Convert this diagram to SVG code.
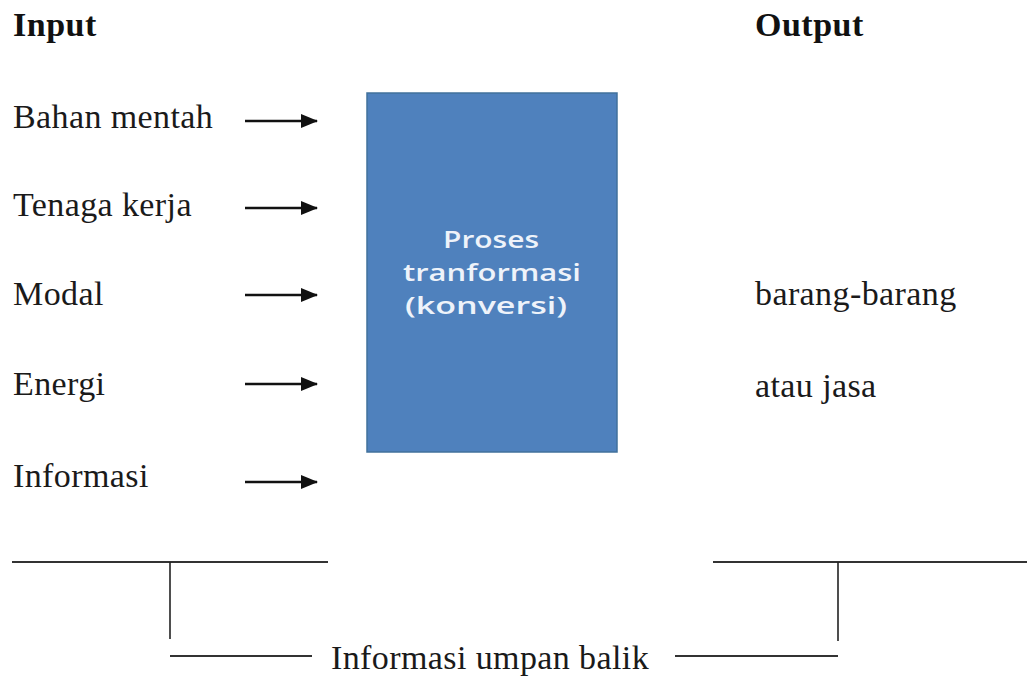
<svg xmlns="http://www.w3.org/2000/svg" width="1027" height="676" viewBox="0 0 1027 676">
  <style>
    .lbl { font-family: "Liberation Serif", "Times New Roman", serif; font-size: 34px; fill: #1a1a1a; letter-spacing: 0.4px; }
    .head { font-family: "Liberation Serif", "Times New Roman", serif; font-size: 34px; font-weight: bold; fill: #111; letter-spacing: 0.5px; }
    .box-text { font-family: "Open Sans", "Noto Sans", sans-serif; font-size: 24px; font-weight: 600; fill: #eef3fa; text-anchor: middle; }
    .arrow { stroke: #111; stroke-width: 2.5; fill: none; marker-end: url(#head); }
    .bar { stroke: #333; stroke-width: 2.2; fill: none; }
    .tick { stroke: #222; stroke-width: 1.6; fill: none; }
  </style>
  <defs>
    <marker id="head" viewBox="0 0 17 14" refX="16" refY="7" markerWidth="17" markerHeight="14" markerUnits="userSpaceOnUse" orient="auto">
      <path d="M0,0 L17,7 L0,14 Z" fill="#111"/>
    </marker>
  </defs>
  <rect width="1027" height="676" fill="#ffffff"/>

  <text class="head" x="13" y="36">Input</text>
  <text class="head" x="755" y="36">Output</text>

  <g id="input-bahan"><text class="lbl" x="13" y="128">Bahan mentah</text></g>
  <g id="input-tenaga"><text class="lbl" x="13" y="216">Tenaga kerja</text></g>
  <g id="input-modal"><text class="lbl" x="13" y="305">Modal</text></g>
  <g id="input-energi"><text class="lbl" x="13" y="395">Energi</text></g>
  <g id="input-informasi"><text class="lbl" x="13" y="487">Informasi</text></g>

  <g id="proses">
    <rect x="367" y="93" width="250" height="359" fill="#4f81bd" stroke="#41719c" stroke-width="1.5"/>
    <text class="box-text" x="491" y="248" textLength="96" lengthAdjust="spacingAndGlyphs">Proses</text>
    <text class="box-text" x="492" y="281" textLength="178" lengthAdjust="spacingAndGlyphs">tranformasi</text>
    <text class="box-text" x="486" y="314" textLength="162" lengthAdjust="spacingAndGlyphs">(konversi)</text>
  </g>

  <g id="output">
    <text class="lbl" x="755" y="305">barang-barang</text>
    <text class="lbl" x="755" y="397">atau jasa</text>
  </g>

  <g id="connectors">
    <line class="arrow" x1="245" y1="121" x2="317" y2="121"/>
    <line class="arrow" x1="245" y1="208" x2="317" y2="208"/>
    <line class="arrow" x1="245" y1="295" x2="317" y2="295"/>
    <line class="arrow" x1="245" y1="384" x2="317" y2="384"/>
    <line class="arrow" x1="245" y1="482" x2="317" y2="482"/>

    <!-- feedback bracket -->
    <line class="bar" x1="12" y1="562" x2="328" y2="562"/>
    <line class="tick" x1="170" y1="562" x2="170" y2="639"/>
    <line class="bar" x1="170" y1="656" x2="312" y2="656"/>
    <line class="bar" x1="713" y1="562" x2="1027" y2="562"/>
    <line class="tick" x1="838" y1="562" x2="838" y2="641"/>
    <line class="bar" x1="675" y1="656" x2="838" y2="656"/>
  </g>

  <g id="umpan-balik">
    <text class="lbl" x="331" y="669">Informasi umpan balik</text>
  </g>
</svg>
